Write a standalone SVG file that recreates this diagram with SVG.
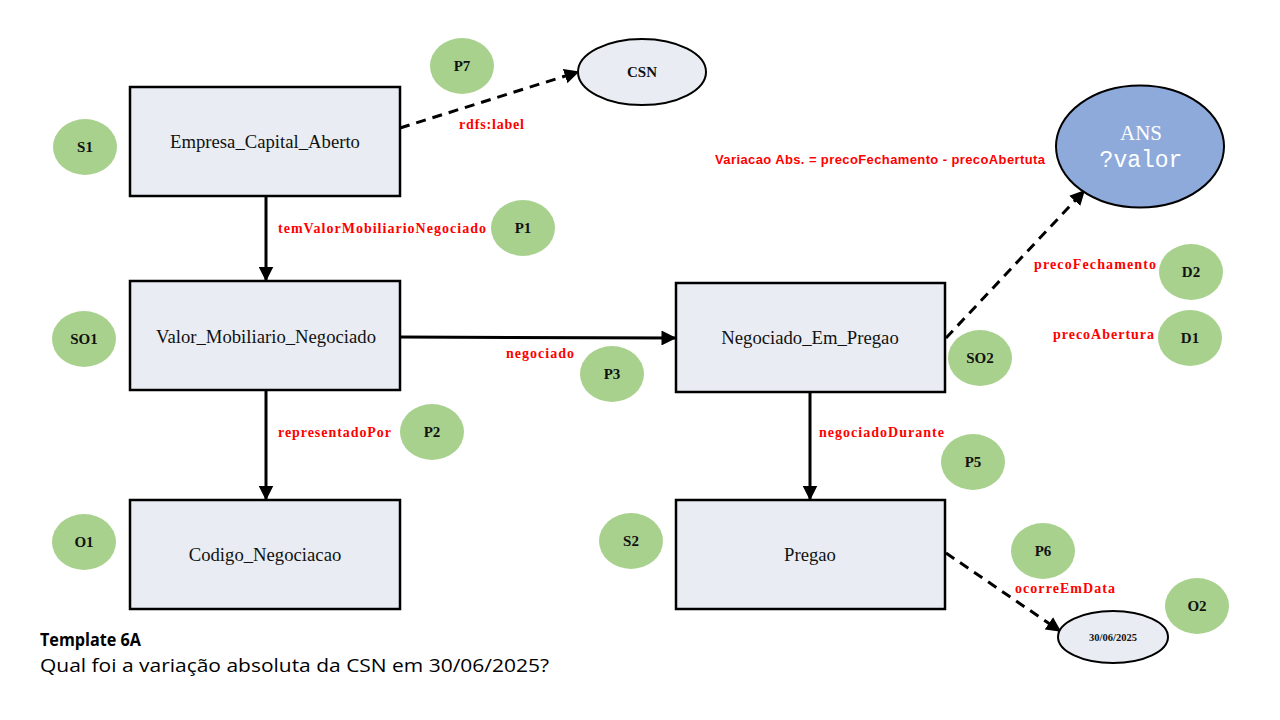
<svg xmlns="http://www.w3.org/2000/svg" width="1280" height="720" viewBox="0 0 1280 720">
<style>
.box{fill:#E9EDF3;stroke:#000;stroke-width:2.5}
.nt{font-family:"Liberation Serif",serif;font-size:18.7px;fill:#111;text-anchor:middle}
.tag{fill:#A9D18E}
.tt{font-family:"Liberation Serif",serif;font-size:15px;font-weight:bold;fill:#111;text-anchor:middle}
.lbl{font-family:"Liberation Serif",serif;font-size:14px;font-weight:bold;fill:#FF0000}
.ln{stroke:#000;stroke-width:3;fill:none}
.dash{stroke:#000;stroke-width:3;fill:none;stroke-dasharray:10 7}
</style>
<defs>
<marker id="ah" viewBox="0 0 10 10" refX="9" refY="5" markerWidth="5" markerHeight="5" orient="auto" markerUnits="strokeWidth">
<path d="M0,0 L10,5 L0,10 z" fill="#000"/>
</marker>
</defs>
<rect width="1280" height="720" fill="#fff"/>

<g id="connectors">
<line class="ln" x1="266" y1="196" x2="266" y2="280" marker-end="url(#ah)"/>
<line class="ln" x1="266" y1="390" x2="266" y2="499" marker-end="url(#ah)"/>
<line class="ln" x1="400" y1="337" x2="675" y2="338" marker-end="url(#ah)"/>
<line class="ln" x1="810" y1="392" x2="810" y2="499" marker-end="url(#ah)"/>
<line class="dash" x1="400" y1="128" x2="578" y2="72" marker-end="url(#ah)"/>
<line class="dash" x1="946" y1="338" x2="1084" y2="191" marker-end="url(#ah)"/>
<line class="dash" x1="946" y1="553" x2="1060" y2="631" marker-end="url(#ah)"/>
<text class="lbl" x="459" y="129" textLength="65">rdfs:label</text>
<text class="lbl" x="278" y="233" textLength="208">temValorMobiliarioNegociado</text>
<text class="lbl" x="506" y="358" textLength="68">negociado</text>
<text class="lbl" x="278" y="437" textLength="113">representadoPor</text>
<text class="lbl" x="819" y="437" textLength="125">negociadoDurante</text>
<text class="lbl" x="1034" y="269" textLength="122">precoFechamento</text>
<text class="lbl" x="1053" y="339" textLength="101">precoAbertura</text>
<text class="lbl" x="1015" y="593" textLength="100">ocorreEmData</text>
</g>

<g id="empresa"><rect class="box" x="130" y="87" width="270" height="109"/><text class="nt" x="265" y="148">Empresa_Capital_Aberto</text></g>
<g id="valor"><rect class="box" x="130" y="281" width="270" height="109"/><text class="nt" x="266" y="343">Valor_Mobiliario_Negociado</text></g>
<g id="codigo"><rect class="box" x="130" y="500" width="270" height="109"/><text class="nt" x="265" y="561">Codigo_Negociacao</text></g>
<g id="negociado"><rect class="box" x="676" y="283" width="269" height="109"/><text class="nt" x="810" y="344">Negociado_Em_Pregao</text></g>
<g id="pregao"><rect class="box" x="676" y="500" width="269" height="109"/><text class="nt" x="810" y="561">Pregao</text></g>

<g id="csn"><ellipse cx="642" cy="72" rx="64" ry="33" fill="#E9EDF3" stroke="#000" stroke-width="2"/><text class="tt" x="642" y="77">CSN</text></g>
<g id="ans"><ellipse cx="1140" cy="146.5" rx="84" ry="61" fill="#8EAADB" stroke="#000" stroke-width="2"/><text x="1141" y="140" font-family="Liberation Serif,serif" font-size="21" fill="#fff" text-anchor="middle">ANS</text><text x="1141" y="167" font-family="Liberation Mono,monospace" font-size="23" fill="#fff" text-anchor="middle">?valor</text></g>
<g id="data"><ellipse cx="1113" cy="637" rx="55" ry="26" fill="#E9EDF3" stroke="#000" stroke-width="2"/><text x="1113" y="641" font-family="Liberation Serif,serif" font-size="10.5" font-weight="bold" fill="#111" text-anchor="middle">30/06/2025</text></g>

<g id="tags">
<g id="S1"><ellipse class="tag" cx="85" cy="147" rx="32" ry="28"/><text class="tt" x="85" y="152">S1</text></g>
<g id="P7"><ellipse class="tag" cx="462" cy="66" rx="32" ry="28"/><text class="tt" x="462" y="71">P7</text></g>
<g id="P1"><ellipse class="tag" cx="523" cy="228" rx="32" ry="28"/><text class="tt" x="523" y="233">P1</text></g>
<g id="SO1"><ellipse class="tag" cx="84" cy="339" rx="32" ry="28"/><text class="tt" x="84" y="344">SO1</text></g>
<g id="P3"><ellipse class="tag" cx="612" cy="374" rx="32" ry="28"/><text class="tt" x="612" y="379">P3</text></g>
<g id="P2"><ellipse class="tag" cx="432" cy="432" rx="32" ry="28"/><text class="tt" x="432" y="437">P2</text></g>
<g id="O1"><ellipse class="tag" cx="84" cy="542" rx="32" ry="28"/><text class="tt" x="84" y="547">O1</text></g>
<g id="S2"><ellipse class="tag" cx="631" cy="541" rx="32" ry="28"/><text class="tt" x="631" y="546">S2</text></g>
<g id="P5"><ellipse class="tag" cx="973" cy="462" rx="32" ry="28"/><text class="tt" x="973" y="467">P5</text></g>
<g id="SO2"><ellipse class="tag" cx="980" cy="358" rx="32" ry="28"/><text class="tt" x="980" y="363">SO2</text></g>
<g id="D2"><ellipse class="tag" cx="1191" cy="272" rx="32" ry="28"/><text class="tt" x="1191" y="277">D2</text></g>
<g id="D1"><ellipse class="tag" cx="1190" cy="338" rx="32" ry="28"/><text class="tt" x="1190" y="343">D1</text></g>
<g id="P6"><ellipse class="tag" cx="1043" cy="551" rx="32" ry="28"/><text class="tt" x="1043" y="556">P6</text></g>
<g id="O2"><ellipse class="tag" cx="1197" cy="606" rx="32" ry="28"/><text class="tt" x="1197" y="611">O2</text></g>
</g>

<text x="715" y="164" font-family="Liberation Sans,sans-serif" font-size="13" font-weight="bold" fill="#FF0000" textLength="330">Variacao Abs. = precoFechamento - precoAbertuta</text>

<g id="caption">
<text x="40" y="646" font-family="Open Sans,sans-serif" font-size="18" font-weight="bold" fill="#000" textLength="101" lengthAdjust="spacingAndGlyphs">Template 6A</text>
<text x="40" y="672" font-family="Open Sans,sans-serif" font-size="19" fill="#000" textLength="509" lengthAdjust="spacingAndGlyphs">Qual foi a variação absoluta da CSN em 30/06/2025?</text>
</g>
</svg>
